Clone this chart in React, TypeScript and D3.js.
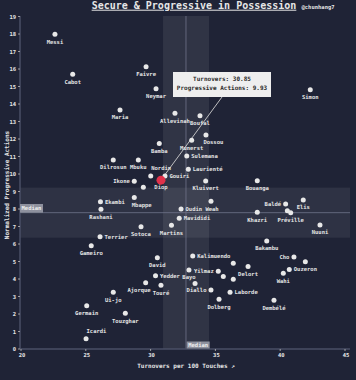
import React from "react";
import * as d3 from "d3";

const W = 356;
const H = 380;

const names = [
  "Messi", "Cabot", "Faivre", "Neymar", "Maria", "Allevinah", "Boufal", "Simon",
  "Dossou", "Munerst", "Bamba", "Sulemana", "Dilrosun", "Mbuku", "Laurienté", "Nordin",
  "Gouiri", "Diop", "Ikone", "", "Kluivert", "Bouanga", "Mbappe", "Ekambi",
  "Rashani", "Oudin Weah", "", "Mavididi", "Baldé", "Elis", "", "Préville",
  "Khazri", "Sotoca", "Martins", "Nuuni", "Terrier", "Gameiro", "Bakambu", "David",
  "Kalimuendo", "Cho", "", "", "Delort", "Ouzeron", "Bayo", "Yilmaz",
  "Wahi", "", "", "Yedder", "Diallo", "", "Laborde", "Dolberg",
  "Dembélé", "Ajorque", "Touré", "Ui-jo", "Germain", "Touzghar", "Icardi",
];
const turnovers = [
  22.62, 23.99, 29.65, 30.42, 27.64, 31.88, 33.81, 42.32,
  34.27, 33.17, 30.67, 32.79, 27.12, 29.05, 32.91, 30.01,
  31.11, 30.8, 28.74, 29.44, 34.25, 38.23, 28.74, 26.13,
  26.17, 32.35, 34.66, 32.21, 40.42, 41.78, 40.55, 40.81,
  38.23, 29.26, 31.61, 43.07, 26.1, 25.42, 38.96, 30.52,
  33.25, 41.06, 41.94, 36.38, 37.52, 40.7, 32.96, 35.22,
  40.24, 35.61, 36.38, 30.38, 34.66, 33.43, 36.13, 35.28,
  39.52, 29.62, 30.8, 27.12, 25.07, 28.05, 25.02,
];
const progressive = [
  17.98, 15.7, 16.13, 14.87, 13.66, 13.47, 13.33, 14.82,
  12.23, 11.93, 11.75, 11.03, 10.8, 10.8, 10.27, 9.89,
  9.89, 9.65, 9.59, 9.24, 9.6, 9.62, 8.66, 8.42,
  7.98, 8.0, 8.45, 7.47, 8.29, 8.51, 7.9, 7.79,
  7.81, 6.99, 7.07, 7.09, 6.42, 5.9, 6.17, 5.22,
  5.31, 5.26, 4.99, 4.9, 4.71, 4.55, 4.51, 4.44,
  4.33, 4.14, 3.98, 4.19, 3.37, 3.75, 3.24, 2.84,
  2.78, 3.79, 3.64, 3.24, 2.47, 2.04, 0.59,
];
// label side: b = below, br = below (shifted right), bl = below (shifted left), r = right, l = left, a = above
const labelSide = [
  "b", "b", "b", "b", "b", "b", "b", "b",
  "br", "b", "b", "r", "b", "b", "r", "a",
  "r", "b", "l", "b", "b", "b", "br", "r",
  "b", "r", "b", "r", "l", "b", "b", "b",
  "b", "b", "b", "b", "r", "b", "b", "b",
  "r", "l", "b", "b", "b", "r", "b", "l",
  "b", "b", "b", "r", "l", "b", "r", "b",
  "b", "bl", "b", "b", "b", "b", "a",
];

const highlight = "Diop";
const tooltipLines = ["Turnovers: 30.85", "Progressive Actions: 9.93"];

const xTicks = [20, 25, 30, 35, 40, 45];
const yTicks = d3.range(0, 20);

const medianX = 32.73;
const medianY = 7.79;
const bandX = [30.96, 34.51];
const bandY = [6.36, 9.22];

const title = "Secure & Progressive in Possession";
const credit = "@chunhang7";
const xLabel = "Turnovers per 100 Touches ↗";
const yLabel = "Normalized Progressive Actions";

const FONT = "'DejaVu Sans Mono', 'Liberation Mono', monospace";
const BG = "#1f2336";
const FG = "#e6e6e6";

export default function App() {
  React.useEffect(() => {
    document.body.style.margin = "0";
  }, []);

  const x = d3.scaleLinear().domain([20, 45]).range([21, 345]);
  const y = d3.scaleLinear().domain([0, 19]).range([349, 16.5]);
  const left = 20, right = 350, top = 16, bottom = 349;

  const pts = names.map((n, i) => ({
    name: n,
    tx: turnovers[i],
    py: progressive[i],
    side: labelSide[i],
  }));
  const hi = pts.find((p) => p.name === highlight)!;

  const tipX = 173, tipY = 72, tipW = 98, tipH = 25;

  return (
    <svg width={W} height={H} style={{ display: "block", background: BG }} fontFamily={FONT}>
      <rect x={0} y={0} width={W} height={H} fill={BG} />
      {/* bands */}
      <rect x={x(bandX[0])} y={top} width={x(bandX[1]) - x(bandX[0])} height={bottom - top} fill="#ffffff" fillOpacity={0.08} />
      <rect x={left} y={y(bandY[1])} width={right - left} height={y(bandY[0]) - y(bandY[1])} fill="#ffffff" fillOpacity={0.07} />
      {/* medians */}
      <line x1={left} x2={right} y1={y(medianY)} y2={y(medianY)} stroke="#70748a" strokeWidth={0.8} />
      <line x1={x(medianX)} x2={x(medianX)} y1={top} y2={bottom} stroke="#70748a" strokeWidth={0.8} />
      {/* axes */}
      <line x1={left} x2={right} y1={bottom} y2={bottom} stroke="#4a4f66" strokeWidth={1.5} />
      <line x1={left} x2={left} y1={top} y2={bottom} stroke="#4a4f66" strokeWidth={1.5} />
      {xTicks.map((t) => (
        <g key={"xt" + t}>
          <line x1={x(t)} x2={x(t)} y1={bottom} y2={bottom + 2} stroke="#bbbbbb" strokeWidth={0.8} />
          <text x={x(t) + 1} y={357} fontSize={5.5} fontWeight="bold" fill={FG} textAnchor="middle">{t}</text>
        </g>
      ))}
      {yTicks.map((t) => (
        <g key={"yt" + t}>
          <line x1={left - 2} x2={left} y1={y(t)} y2={y(t)} stroke="#bbbbbb" strokeWidth={0.8} />
          <text x={16} y={y(t) + 2} fontSize={5.5} fontWeight="bold" fill={FG} textAnchor="end">{t}</text>
        </g>
      ))}
      {/* median labels */}
      <rect x={left} y={y(medianY) - 8.7} width={23} height={8.7} fill="#8e919e" />
      <text x={left + 11.5} y={y(medianY) - 2.5} fontSize={5.5} fontWeight="bold" fill="#f0f0f0" textAnchor="middle">Median</text>
      <rect x={x(medianX) + 0.7} y={bottom - 7.5} width={23} height={7} fill="#8e919e" />
      <text x={x(medianX) + 12.2} y={bottom - 2} fontSize={5.5} fontWeight="bold" fill="#f0f0f0" textAnchor="middle">Median</text>
      {/* tooltip connector */}
      <line x1={tipX + tipW / 2} y1={tipY + tipH} x2={x(hi.tx)} y2={y(hi.py)} stroke="#cfcfcf" strokeWidth={0.9} />
      {/* points */}
      {pts.map((p, i) =>
        p.name === highlight ? null : (
          <circle key={"p" + i} cx={x(p.tx)} cy={y(p.py)} r={2.5} fill="#e8e8e8" />
        )
      )}
      <circle cx={x(hi.tx)} cy={y(hi.py)} r={4.5} fill="#e0314a" />
      {/* labels */}
      {pts.map((p, i) => {
        if (!p.name) return null;
        const cx = x(p.tx), cy = y(p.py);
        let lx = cx, ly = cy + 9.3, anchor = "middle";
        if (p.side === "r") { lx = cx + 4.5; ly = cy + 2; anchor = "start"; }
        else if (p.side === "l") { lx = cx - 4.5; ly = cy + 2; anchor = "end"; }
        else if (p.side === "a") { lx = cx + 0.5; ly = cy - 6; anchor = "start"; }
        else if (p.side === "br") { lx = cx - 2.5; anchor = "start"; }
        else if (p.side === "bl") { lx = cx + 5; anchor = "end"; }
        return (
          <text key={"l" + i} x={lx} y={ly} fontSize={5.5} fontWeight="bold" fill={FG} textAnchor={anchor}>{p.name}</text>
        );
      })}
      {/* tooltip */}
      <rect x={tipX} y={tipY} width={tipW} height={tipH} fill="#eeeeee" />
      {tooltipLines.map((t, i) => (
        <text key={"tt" + i} x={tipX + tipW / 2} y={tipY + 9.3 + i * 8.4} fontSize={6} fontWeight="bold" fill="#2a2a2a" textAnchor="middle">{t}</text>
      ))}
      {/* titles */}
      <text x={194} y={8.7} fontSize={10} fontWeight="bold" fill={FG} textAnchor="middle" textDecoration="underline">{title}</text>
      <text x={301.5} y={8.5} fontSize={5.5} fontWeight="bold" fill={FG}>{credit}</text>
      <text x={186} y={368} fontSize={6} fontWeight="bold" fill={FG} textAnchor="middle">{xLabel}</text>
      <text transform={`translate(8.5,${185}) rotate(-90)`} fontSize={6} fontWeight="bold" fill={FG} textAnchor="middle">{yLabel}</text>
    </svg>
  );
}
